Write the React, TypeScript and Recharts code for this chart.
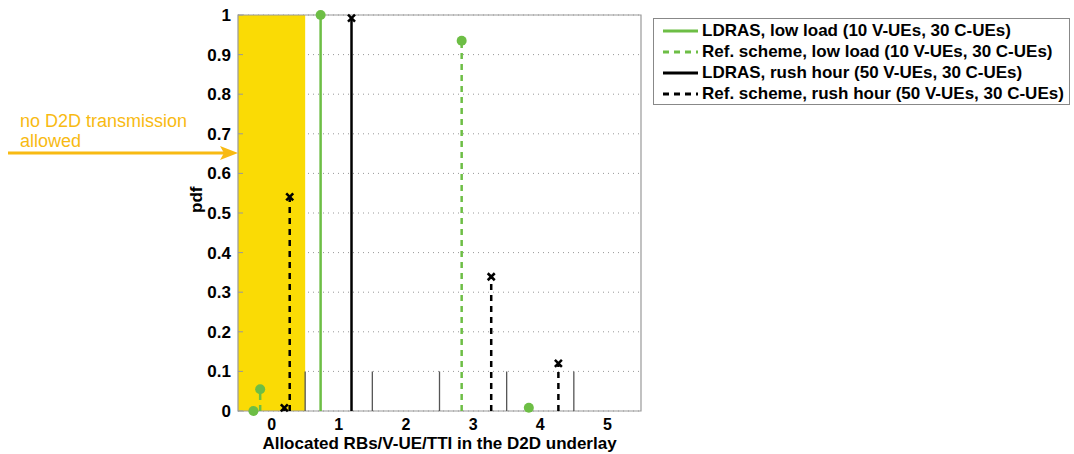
import React from 'react';
import { ComposedChart, XAxis, YAxis, CartesianGrid, Scatter, ReferenceLine, ReferenceArea } from 'recharts';

const GREEN = '#6DBE45';
const YELLOW = '#FADB05';
const ORANGE = '#F8BA12';
const FONT = '"Liberation Sans", Arial, Helvetica, sans-serif';

const xTicks = [0, 1, 2, 3, 4, 5];
const yTicks = [0, 0.1, 0.2, 0.3, 0.4, 0.5, 0.6, 0.7, 0.8, 0.9, 1];
const binEdges = [0.5, 1.5, 2.5, 3.5, 4.5];
const binEdgeHeight = 0.1;

// stem positions (x) and pdf values (y) per series
const ldrasLowX = [-0.27, 0.73];
const ldrasLowY = [0, 1.0];
const refLowX = [-0.17, 2.83, 3.83];
const refLowY = [0.055, 0.935, 0.008];
const ldrasRushX = [0.19, 1.19];
const ldrasRushY = [0.008, 0.992];
const refRushX = [0.27, 3.27, 4.27];
const refRushY = [0.541, 0.339, 0.12];

const series = [
  { name: 'LDRAS, low load (10 V-UEs, 30 C-UEs)', xs: ldrasLowX, ys: ldrasLowY, color: GREEN, dashed: false, marker: 'circle' },
  { name: 'Ref. scheme, low load (10 V-UEs, 30 C-UEs)', xs: refLowX, ys: refLowY, color: GREEN, dashed: true, marker: 'circle' },
  { name: 'LDRAS, rush hour (50 V-UEs, 30 C-UEs)', xs: ldrasRushX, ys: ldrasRushY, color: '#000', dashed: false, marker: 'cross' },
  { name: 'Ref. scheme, rush hour (50 V-UEs, 30 C-UEs)', xs: refRushX, ys: refRushY, color: '#000', dashed: true, marker: 'cross' },
];

const Marker = (kind: string, color: string) => (props: any) => {
  const { cx, cy } = props;
  if (kind === 'circle') return <circle cx={cx} cy={cy} r={5} fill={color} />;
  const s = 3.5;
  return (
    <g stroke={color} strokeWidth={2.5}>
      <line x1={cx - s} y1={cy - s} x2={cx + s} y2={cy + s} />
      <line x1={cx - s} y1={cy + s} x2={cx + s} y2={cy - s} />
    </g>
  );
};

const tickStyle = { fontFamily: FONT, fontSize: 17, fontWeight: 'bold', fill: '#000' };
const xTickStyle = { ...tickStyle, fontSize: 16 };

export default function App() {
  return (
    <div style={{ position: 'absolute', left: 0, top: 0, width: 1074, height: 454, background: '#fff', fontFamily: FONT }}>
      <ComposedChart width={1074} height={454} margin={{ top: 15, right: 423, bottom: 13, left: 198 }}>
        <ReferenceArea x1={-0.5} x2={0.5} y1={0} y2={1} fill={YELLOW} fillOpacity={1} stroke="none" />
        <CartesianGrid horizontal vertical={false} stroke="#999" strokeDasharray="1 4" />
        <ReferenceArea x1={-0.5} x2={5.5} y1={0} y2={1} fill="none" stroke="#999" strokeWidth={1.2} />
        <XAxis
          type="number"
          dataKey="x"
          domain={[-0.5, 5.5]}
          ticks={xTicks}
          axisLine={false}
          tickLine={false}
          tickMargin={2}
          tick={xTickStyle}
          height={30}
          label={{ value: 'Allocated RBs/V-UE/TTI in the D2D underlay', position: 'insideBottom', offset: -8, style: tickStyle }}
        />
        <YAxis
          type="number"
          dataKey="y"
          domain={[0, 1]}
          ticks={yTicks}
          width={40}
          axisLine={false}
          tickLine={{ stroke: '#999' }}
          tickSize={-5}
          tickMargin={12}
          tick={tickStyle}
          tickFormatter={(v: number) => String(Math.round(v * 10) / 10)}
          label={{ value: 'pdf', angle: -90, position: 'insideLeft', offset: -2, style: tickStyle }}
        />
        <YAxis
          yAxisId="r"
          orientation="right"
          type="number"
          domain={[0, 1]}
          ticks={yTicks}
          width={10}
          axisLine={false}
          tickLine={{ stroke: '#999' }}
          tickSize={-5}
          tickFormatter={() => ''}
        />
        {binEdges.map((x) => (
          <ReferenceLine key={'b' + x} segment={[{ x, y: 0 }, { x, y: binEdgeHeight }]} stroke="#555" strokeWidth={1.3} />
        ))}
        {series.flatMap((s, i) =>
          s.xs.map((x, j) =>
            s.ys[j] > 0 ? (
              <ReferenceLine
                key={`s${i}-${j}`}
                segment={[{ x, y: 0 }, { x, y: s.ys[j] }]}
                stroke={s.color}
                strokeWidth={2.5}
                strokeDasharray={s.dashed ? '6 5' : undefined}
                ifOverflow="visible"
              />
            ) : null
          )
        )}
        {series.map((s, i) => (
          <Scatter
            key={'m' + i}
            name={s.name}
            data={s.xs.map((x, j) => ({ x, y: s.ys[j] }))}
            shape={Marker(s.marker, s.color)}
            isAnimationActive={false}
          />
        ))}
      </ComposedChart>

      {/* legend */}
      <div style={{ position: 'absolute', left: 653, top: 18, width: 417, height: 87, border: '1px solid #888', boxSizing: 'border-box', background: '#fff' }}>
        {series.map((s, i) => (
          <div key={i} style={{ position: 'absolute', left: 8, top: 1 + i * 21.3, height: 21, display: 'flex', alignItems: 'center', whiteSpace: 'nowrap' }}>
            <svg width={38} height={10}>
              <line x1={1} y1={5} x2={36} y2={5} stroke={s.color} strokeWidth={3} strokeDasharray={s.dashed ? '6 5' : undefined} />
            </svg>
            <span style={{ fontSize: 17, fontWeight: 'bold', marginLeft: 2 }}>{s.name}</span>
          </div>
        ))}
      </div>

      {/* annotation */}
      <div style={{ position: 'absolute', left: 20, top: 111, color: ORANGE, fontSize: 18, lineHeight: '20px' }}>
        no D2D transmission
        <br />
        allowed
      </div>
      <svg style={{ position: 'absolute', left: 0, top: 143 }} width={240} height={20}>
        <line x1={8} y1={10} x2={224} y2={10} stroke={ORANGE} strokeWidth={3} />
        <polygon points="238,10 220,3 224,10 220,17" fill={ORANGE} />
      </svg>
    </div>
  );
}
